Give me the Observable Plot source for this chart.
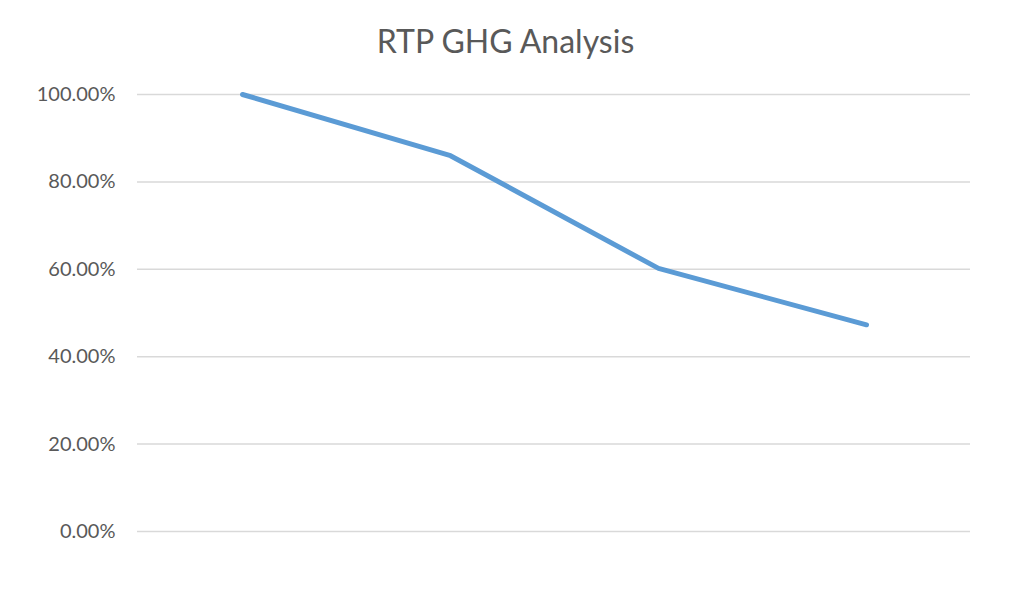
<!DOCTYPE html>
<html>
<head>
<meta charset="utf-8">
<script src="https://cdn.jsdelivr.net/npm/d3@7"></script>
<script src="https://cdn.jsdelivr.net/npm/@observablehq/plot@0.6"></script>
<style>
  body { margin: 0; background: #fff; }
  #title { height: 70px; width: 1011px; text-align: center; font-family: Lato, "Open Sans", sans-serif; font-size: 32px; color: #595959; line-height: 82px; }
</style>
</head>
<body>
<div id="title">RTP GHG Analysis</div>
<div id="chart"></div>
<script>
const categories = ["1", "2", "3", "4"];
const values = [1.0, 0.86, 0.602, 0.473];
const yTicks = [0, 0.2, 0.4, 0.6, 0.8, 1.0];

const data = categories.map((c, i) => ({ c, v: values[i] }));

const chart = Plot.plot({
  width: 1011,
  height: 523,
  marginTop: 24,
  marginBottom: 62,
  marginLeft: 137,
  marginRight: 41,
  style: { fontFamily: "Lato, 'Open Sans', sans-serif", fontSize: "20px", color: "#595959", background: "#fff" },
  x: { type: "point", domain: categories, padding: 0.5, axis: null },
  y: { domain: [0, 1], ticks: yTicks, tickFormat: d => (d * 100).toFixed(2) + "%", tickSize: 0, tickPadding: 22, label: null },
  marks: [
    Plot.gridY(yTicks, { stroke: "#d9d9d9", strokeOpacity: 1, strokeWidth: 1.5 }),
    Plot.axisY({ ticks: yTicks, tickFormat: d => (d * 100).toFixed(2) + "%", tickSize: 0, tickPadding: 22, label: null, fill: "#595959" }),
    Plot.line(data, { x: "c", y: "v", stroke: "#5b9bd5", strokeWidth: 5, strokeLinecap: "round", strokeLinejoin: "round" })
  ]
});
document.getElementById("chart").appendChild(chart);
</script>
</body>
</html>
